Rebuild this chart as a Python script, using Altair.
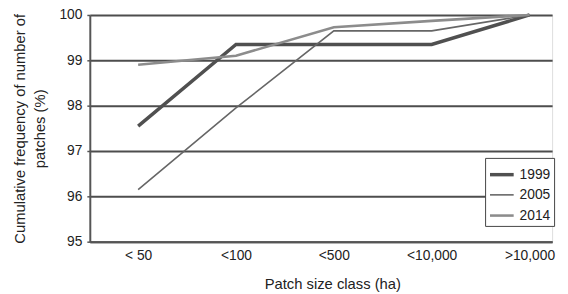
import altair as alt
import pandas as pd

categories = ["< 50", "<100", "<500", "<10,000", ">10,000"]
years = ["1999", "2005", "2014"]
v1999 = [97.55, 99.35, 99.35, 99.35, 100.0]
v2005 = [96.15, 97.95, 99.65, 99.65, 100.0]
v2014 = [98.9, 99.1, 99.73, 99.87, 100.0]

colors = ["#505050", "#666666", "#8c8c8c"]
widths = [3.5, 1.6, 2.6]

rows = []
for y, vals in zip(years, [v1999, v2005, v2014]):
    for i, v in enumerate(vals):
        rows.append({"year": y, "idx": i, "cat": categories[i], "value": v})
df = pd.DataFrame(rows)

label_arr = "[" + ",".join("'" + c + "'" for c in categories) + "]"

leg = dict(title=None, orient="none", legendX=401, legendY=145,
           strokeColor="#444444", fillColor="white", padding=3,
           symbolType="stroke", symbolSize=576, labelFontSize=14,
           labelColor="#222222", rowPadding=0.5, labelOffset=4)

chart = alt.Chart(df).mark_line().encode(
    x=alt.X("idx:Q",
            scale=alt.Scale(domain=[-0.494, 4.231], nice=False, zero=False),
            axis=alt.Axis(values=[0, 1, 2, 3, 4], labelExpr=label_arr + "[datum.value]",
                          title="Patch size class (ha)", grid=False, ticks=False,
                          domainColor="#555555", domainWidth=2,
                          labelFontSize=14, labelPadding=7, labelColor="#222222",
                          titleFontSize=15, titleFontWeight="normal", titleColor="#222222",
                          titleX=246, titleY=42, titleBaseline="middle")),
    y=alt.Y("value:Q",
            scale=alt.Scale(domain=[95, 100], nice=False, zero=False),
            axis=alt.Axis(values=[95, 96, 97, 98, 99, 100], grid=True,
                          gridColor="#4d4d4d", gridWidth=2, gridOpacity=1,
                          domainColor="#555555", domainWidth=2,
                          tickSize=3, tickColor="#555555", tickWidth=1.5,
                          labelFontSize=14, labelPadding=5, labelColor="#222222",
                          title=["Cumulative frequency of number of", "patches (%)"],
                          titleFontSize=15, titleFontWeight="normal", titleColor="#222222",
                          titleLineHeight=20, titleX=-78, titleBaseline="top")),
    color=alt.Color("year:N", scale=alt.Scale(domain=years, range=colors),
                    legend=alt.Legend(**leg)),
    strokeWidth=alt.StrokeWidth("year:N",
                                scale=alt.Scale(type="ordinal", domain=years, range=widths),
                                legend=alt.Legend(**leg)),
    order="idx:Q",
).properties(
    width=469, height=230,
    autosize=alt.AutoSizeParams(type="none"),
    padding={"left": 83, "top": 5, "right": 8, "bottom": 51},
    background="white",
).configure_view(stroke=None).configure(font="Liberation Sans")

chart.save("out.html", embed_options={"renderer": "svg", "actions": False})
